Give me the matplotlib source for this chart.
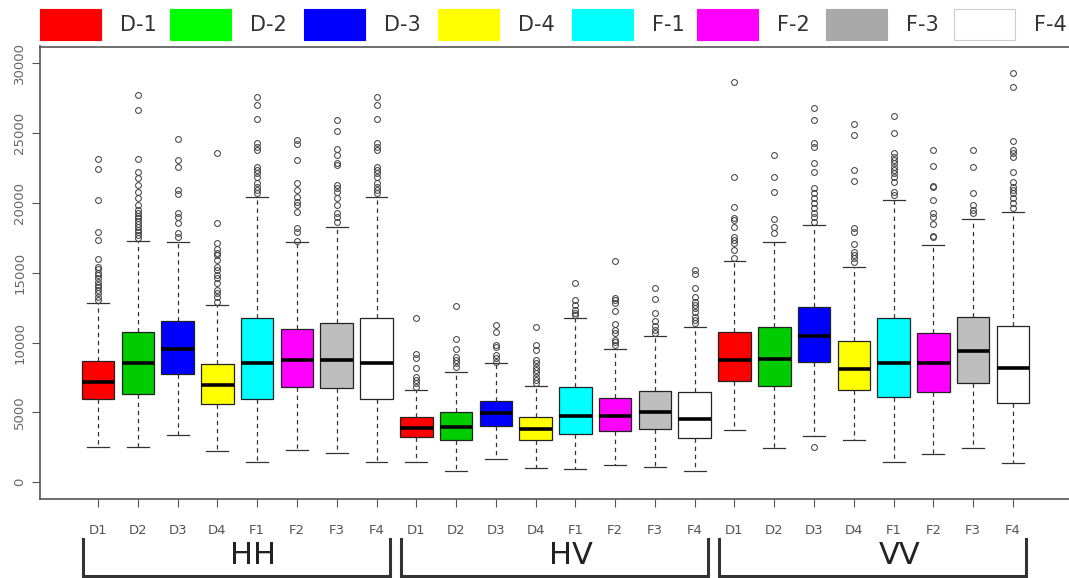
import matplotlib
matplotlib.use("Agg")
import matplotlib.pyplot as plt
from matplotlib.patches import Rectangle
from matplotlib.transforms import blended_transform_factory

# boxplot summaries, 8 classes per polarisation
classes = ["D1", "D2", "D3", "D4", "F1", "F2", "F3", "F4"]
groups = ["HH", "HV", "VV"]
legend_labels = ["D-1", "D-2", "D-3", "D-4", "F-1", "F-2", "F-3", "F-4"]
box_colors = ["#ff0000", "#00cc00", "#0000ff", "#ffff00", "#00ffff", "#ff00ff", "#bebebe", "#ffffff"]
legend_colors = ["#ff0000", "#00ff00", "#0000ff", "#ffff00", "#00ffff", "#ff00ff", "#a9a9a9", "#ffffff"]

# HH
hh_lo = [2500, 2500, 3380, 2240, 1470, 2310, 2120, 1470]
hh_q1 = [5990, 6320, 7780, 5600, 5940, 6820, 6750, 5940]
hh_med = [7200, 8540, 9570, 6940, 8540, 8780, 8780, 8540]
hh_q3 = [8710, 10740, 11570, 8470, 11790, 10950, 11430, 11790]
hh_hi = [12810, 17280, 17200, 12670, 20450, 17200, 18280, 20450]
hh_out = [
    [23120, 22410, 20190, 17900, 17320, 15960, 15440, 15250, 15010, 14820, 14600, 14360, 14120, 13960, 13770, 13530, 13290, 13050],
    [27710, 26660, 23170, 22240, 21760, 21290, 20810, 20330, 19850, 19500, 19300, 19100, 18900, 18700, 18500, 18300, 18100, 17900, 17700, 17500],
    [24580, 23050, 22600, 20930, 20640, 19260, 19020, 18540, 17870, 17590],
    [23580, 18540, 17160, 16680, 16450, 16250, 15920, 15440, 15200, 14840, 14600, 14240, 13770, 13530, 13290, 12930],
    [27560, 27010, 25990, 24270, 24030, 23790, 22600, 22360, 22120, 21880, 21410, 21170, 20930, 20690],
    [24510, 24200, 23050, 21430, 20930, 20450, 20090, 19850, 19380, 18180, 17950, 17280],
    [25920, 25150, 23840, 23430, 22890, 22720, 21290, 21050, 20810, 20330, 19850, 19260, 19020, 18610],
    [27560, 27010, 25990, 24270, 24030, 23790, 22600, 22360, 22120, 21880, 21410, 21170, 20930, 20690],
]

# HV
hv_lo = [1430, 830, 1670, 1020, 950, 1240, 1090, 780]
hv_q1 = [3240, 3050, 4010, 3030, 3460, 3700, 3820, 3170]
hv_med = [3910, 3960, 4940, 3820, 4770, 4770, 5030, 4530]
hv_q3 = [4650, 5030, 5840, 4650, 6820, 6060, 6510, 6440]
hv_hi = [6630, 7900, 8540, 6890, 11790, 9570, 10450, 11140]
hv_out = [
    [11790, 9190, 8880, 8160, 7560, 7320, 7090, 6850],
    [12620, 10260, 9570, 9000, 8760, 8520, 8280],
    [11240, 10790, 9830, 9710, 9110, 8880, 8640],
    [11140, 9830, 9470, 8760, 8520, 8280, 8040, 7800, 7560, 7320, 7090],
    [14270, 13050, 12690, 12330, 12100, 11980],
    [15870, 13220, 13050, 12810, 12290, 11330, 10900, 10670, 10190, 10070, 9830],
    [13890, 13120, 12150, 11570, 11190, 10900, 10670],
    [15200, 14910, 13890, 13290, 12930, 12690, 12460, 12220, 11860, 11620, 11380],
]

# VV
vv_lo = [3720, 2450, 3310, 3000, 1470, 2050, 2450, 1350]
vv_q1 = [7250, 6870, 8640, 6610, 6110, 6490, 7130, 5680]
vv_med = [8780, 8850, 10500, 8130, 8540, 8540, 9420, 8210]
vv_q3 = [10760, 11140, 12550, 10120, 11790, 10690, 11830, 11190]
vv_hi = [15870, 17200, 18420, 15410, 20190, 17010, 18850, 19350]
vv_out = [
    [28640, 21880, 19730, 18900, 18780, 18300, 17590, 17350, 17110, 16630, 16040],
    [23430, 21840, 20760, 18830, 18300, 17830],
    [26800, 25920, 24270, 24030, 22840, 22240, 21050, 20690, 20330, 19970, 19610, 19260, 19020, 18660, 2500],
    [25680, 24840, 22360, 21570, 18230, 17950, 17040, 16510, 16270, 16030, 15800],
    [26250, 25030, 23550, 23320, 23080, 22840, 22600, 22360, 22120, 21880, 21530, 20810, 20570],
    [23790, 22670, 21210, 21120, 20210, 19260, 19020, 18490, 17630, 17540],
    [23790, 22550, 20690, 19850, 19500, 19260],
    [29310, 28330, 24460, 23790, 23550, 23320, 22240, 21530, 21170, 20930, 20690, 20330, 19970, 19610],
]

yticks = [0, 5000, 10000, 15000, 20000, 25000, 30000]

stats = []
for lo, q1, med, q3, hi, out in [(hh_lo, hh_q1, hh_med, hh_q3, hh_hi, hh_out),
                                 (hv_lo, hv_q1, hv_med, hv_q3, hv_hi, hv_out),
                                 (vv_lo, vv_q1, vv_med, vv_q3, vv_hi, vv_out)]:
    for i in range(len(classes)):
        stats.append(dict(whislo=lo[i], q1=q1[i], med=med[i], q3=q3[i],
                          whishi=hi[i], fliers=out[i]))

W, H = 1069, 578
fig = plt.figure(figsize=(W / 100, H / 100), dpi=100)
ax = fig.add_axes([40 / W, (H - 499) / H, (1071 - 40) / W, (499 - 46.5) / H])

n = len(stats)
pos = list(range(1, n + 1))
bp = ax.bxp(stats, positions=pos, widths=0.82, patch_artist=True, capwidths=0.55,
            boxprops=dict(edgecolor="#222222", linewidth=0.9),
            medianprops=dict(color="black", linewidth=2.6, solid_capstyle="butt"),
            whiskerprops=dict(color="#333333", linewidth=0.9, linestyle=(0, (3.5, 3))),
            capprops=dict(color="#333333", linewidth=0.9),
            flierprops=dict(marker="o", markerfacecolor="none", markeredgecolor="#444444",
                            markersize=4.2, markeredgewidth=0.75))
for k, b in enumerate(bp["boxes"]):
    b.set_facecolor(box_colors[k % len(classes)])

ax.set_xlim(-0.46, 25.46)
ax.set_ylim(-1196, 31203)
ax.set_xticks(pos)
ax.set_xticklabels(classes * len(groups), fontsize=9.5, color="#555555")
ax.set_yticks(yticks)
ax.set_yticklabels([str(v) for v in yticks], rotation=90, va="center",
                   fontsize=9.5, color="#666666")
ax.tick_params(axis="x", length=6, width=0.8, color="#555555", pad=12)
ax.tick_params(axis="y", length=6, width=0.8, color="#555555", pad=4)
for s in ["left", "top", "bottom"]:
    ax.spines[s].set_color("#555555")
    ax.spines[s].set_linewidth(1.2)
ax.spines["right"].set_visible(False)

# group brackets under the tick labels
tr = blended_transform_factory(ax.transData, fig.transFigure)
y_top = (H - 539) / H
y_bot = (H - 576) / H
label_shift = [0.4, 0.38, 0.66]
for g, name in enumerate(groups):
    x0 = g * 8 + 1 - 0.38
    x1 = g * 8 + 8 + 0.33
    ax.plot([x0, x0, x1, x1], [y_top, y_bot, y_bot, y_top], transform=tr,
            color="#333333", linewidth=2.2, clip_on=False, solid_joinstyle="miter")
    ax.text(g * 8 + 4.5 + label_shift[g], (H - 555) / H, name, transform=tr,
            ha="center", va="center", fontsize=22, color="#222222")

# legend row across the top
leg_x = [40, 170, 304, 438, 572, 697, 826, 954]
for i, lab in enumerate(legend_labels):
    ec = "#cccccc" if legend_colors[i] == "#ffffff" else legend_colors[i]
    fig.patches.append(Rectangle((leg_x[i] / W, (H - 40) / H), 61 / W, 31 / H,
                                 transform=fig.transFigure, facecolor=legend_colors[i],
                                 edgecolor=ec, linewidth=0.8))
    fig.text((leg_x[i] + 80) / W, (H - 25) / H, lab, ha="left", va="center",
             fontsize=15, color="#333333")

fig.savefig("out.png", dpi=100)
